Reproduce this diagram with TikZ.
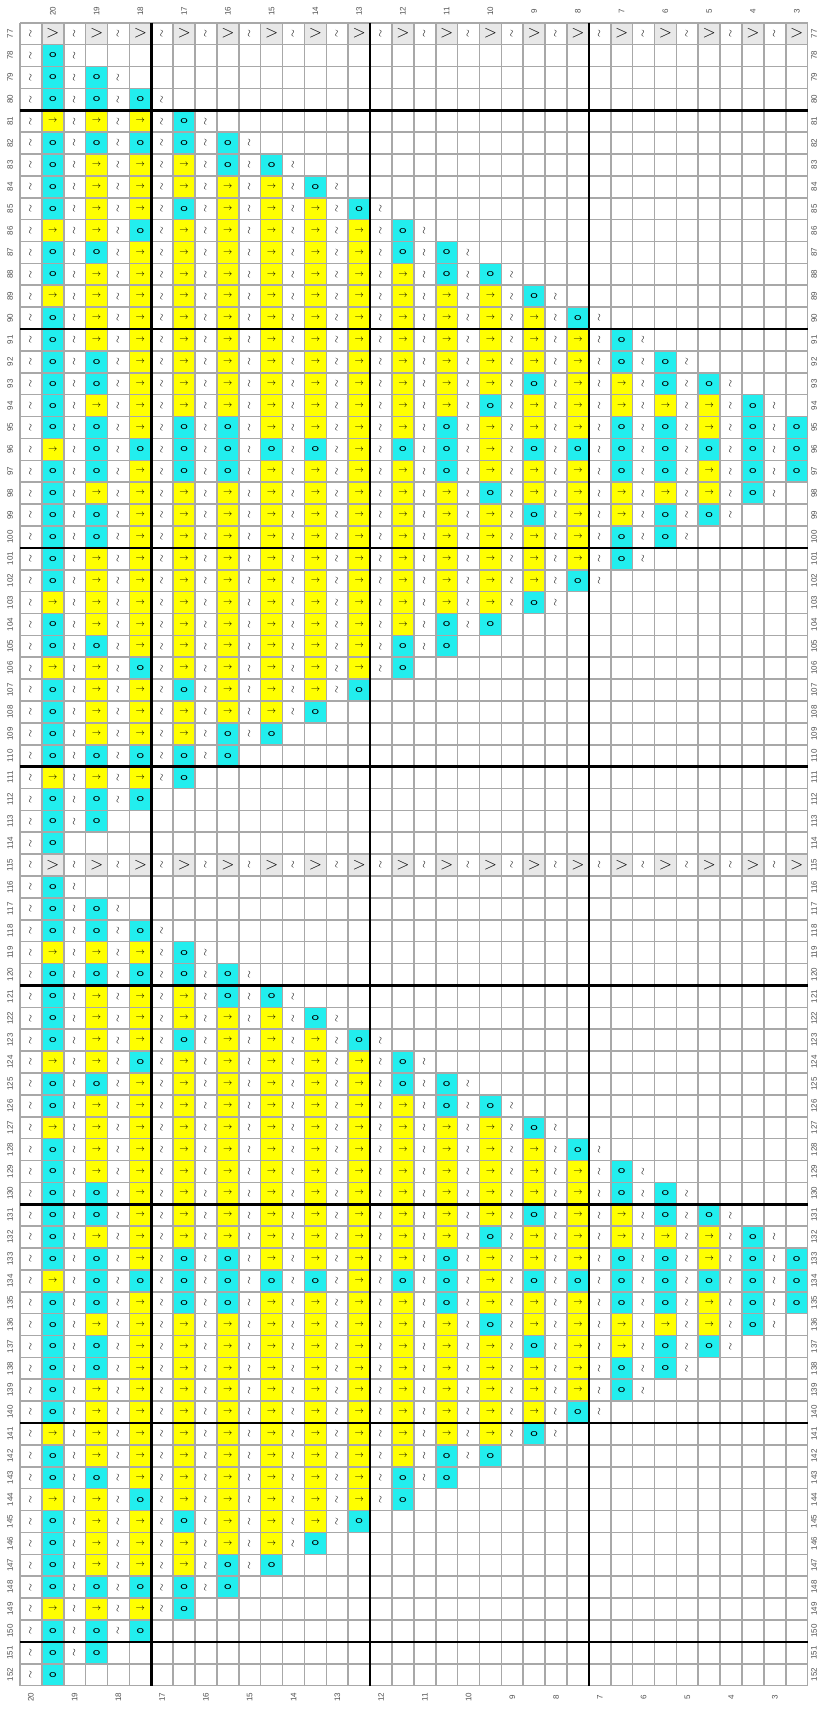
\documentclass[tikz,border=0pt]{standalone}
\usepackage{fontspec}
\setmainfont{Liberation Sans}
\definecolor{cO}{HTML}{22EEEE}
\definecolor{cA}{HTML}{FFFF00}
\definecolor{gridgray}{HTML}{A8A8A8}
\definecolor{hdgray}{HTML}{E8E8E8}
\definecolor{labgray}{HTML}{505050}
\newcommand\symO{\scalebox{1.4}[1]{\sffamily\fontsize{11}{11}\selectfont o}}
\newcommand\symA{\fontsize{9}{9}\selectfont$\rightarrow$}
\newcommand\symT{\rotatebox{90}{\fontsize{10}{10}\selectfont$\sim$}}
\newcommand\symV{\fontsize{18}{18}\selectfont$>$}
\def\chartdata{%
78/{O}/3,
79/{O,O}/5,
80/{O,O,O}/7,
81/{A,A,A,O}/9,
82/{O,O,O,O,O}/11,
83/{O,A,A,A,O,O}/13,
84/{O,A,A,A,A,A,O}/15,
85/{O,A,A,O,A,A,A,O}/17,
86/{A,A,O,A,A,A,A,A,O}/19,
87/{O,O,A,A,A,A,A,A,O,O}/21,
88/{O,A,A,A,A,A,A,A,A,O,O}/23,
89/{A,A,A,A,A,A,A,A,A,A,A,O}/25,
90/{O,A,A,A,A,A,A,A,A,A,A,A,O}/27,
91/{O,A,A,A,A,A,A,A,A,A,A,A,A,O}/29,
92/{O,O,A,A,A,A,A,A,A,A,A,A,A,O,O}/31,
93/{O,O,A,A,A,A,A,A,A,A,A,O,A,A,O,O}/33,
94/{O,A,A,A,A,A,A,A,A,A,O,A,A,A,A,A,O}/35,
95/{O,O,A,O,O,A,A,A,A,O,A,A,A,O,O,A,O,O}/36,
96/{A,O,O,O,O,O,O,A,O,O,A,O,O,O,O,O,O,O}/36,
97/{O,O,A,O,O,A,A,A,A,O,A,A,A,O,O,A,O,O}/36,
98/{O,A,A,A,A,A,A,A,A,A,O,A,A,A,A,A,O}/35,
99/{O,O,A,A,A,A,A,A,A,A,A,O,A,A,O,O}/33,
100/{O,O,A,A,A,A,A,A,A,A,A,A,A,O,O}/31,
101/{O,A,A,A,A,A,A,A,A,A,A,A,A,O}/29,
102/{O,A,A,A,A,A,A,A,A,A,A,A,O}/27,
103/{A,A,A,A,A,A,A,A,A,A,A,O}/25,
104/{O,A,A,A,A,A,A,A,A,O,O}/22,
105/{O,O,A,A,A,A,A,A,O,O}/20,
106/{A,A,O,A,A,A,A,A,O}/18,
107/{O,A,A,O,A,A,A,O}/16,
108/{O,A,A,A,A,A,O}/14,
109/{O,A,A,A,O,O}/12,
110/{O,O,O,O,O}/10,
111/{A,A,A,O}/8,
112/{O,O,O}/6,
113/{O,O}/4,
114/{O}/2}
\begin{document}
\begin{tikzpicture}[x=1pt,y=-1pt,inner sep=0pt,
  lab/.style={rotate=90,text=labgray,font=\fontsize{8}{8}\selectfont}]
\def\s{21.88}
\def\gx{20}
\def\gy{22.7}
\useasboundingbox (0,0) rectangle (822,1709);
\fill[white] (0,0) rectangle (822,1709);
% header rows
\foreach \R in {77,115} {
  \pgfmathsetmacro\yc{\gy+(\R-76.5)*\s}
  \foreach \k in {1,...,18} {
    \pgfmathsetmacro\xe{\gx+(2*\k-0.5)*\s}
    \pgfmathsetmacro\xo{\gx+(2*\k-1.5)*\s}
    \fill[hdgray] ({\xe-\s/2},{\yc-\s/2}) rectangle ++(\s,\s);
    \node (h\R-\k) at (\xe,\yc) {\symV};
    \node (t\R-\k) at (\xo,\yc) {\symT};
  }
}
% body
\foreach \rw/\cl/\n in \chartdata {
  \foreach \off in {0,38} {
    \pgfmathsetmacro\yc{\gy+(\rw+\off-76.5)*\s}
    \pgfmathtruncatemacro\rr{\rw+\off}
    \foreach \ty [count=\j] in \cl {
      \pgfmathsetmacro\xc{\gx+(2*\j-0.5)*\s}
      \fill[c\ty] ({\xc-\s/2},{\yc-\s/2}) rectangle ++(\s,\s);
      \node (e\rr-\j) at (\xc,\yc) {\csname sym\ty\endcsname};
    }
    \pgfmathtruncatemacro\m{(\n+1)/2}
    \foreach \k in {1,...,\m} {
      \pgfmathsetmacro\xc{\gx+(2*\k-1.5)*\s}
      \node (o\rr-\k) at (\xc,\yc) {\symT};
    }
  }
}
% grid
\foreach \c in {0,...,36}
  \draw[gridgray,line width=1.6] ({\gx+\c*\s},\gy) -- ({\gx+\c*\s},{\gy+76*\s});
\foreach \r in {0,...,76}
  \draw[gridgray,line width=1.6] (\gx,{\gy+\r*\s}) -- ({\gx+36*\s},{\gy+\r*\s});
\foreach \c in {6,16,26}
  \draw[black,line width=2.6] ({\gx+\c*\s},\gy) -- ({\gx+\c*\s},{\gy+76*\s});
\foreach \r in {4,14,24,34,44,54,64,74}
  \draw[black,line width=2.6] (\gx,{\gy+\r*\s}) -- ({\gx+36*\s},{\gy+\r*\s});
% labels
\foreach \k in {1,...,18} {
  \pgfmathtruncatemacro\lb{21-\k}
  \node[lab] (ct\k) at ({\gx+(2*\k-0.5)*\s},11) {\lb};
  \node[lab] (cb\k) at ({\gx+(2*\k-1.5)*\s},1697) {\lb};
}
\foreach \r in {77,...,152} {
  \node[lab] (rl\r) at (10,{\gy+(\r-76.5)*\s}) {\r};
  \node[lab] (rr\r) at (814,{\gy+(\r-76.5)*\s}) {\r};
}
\end{tikzpicture}
\end{document}
